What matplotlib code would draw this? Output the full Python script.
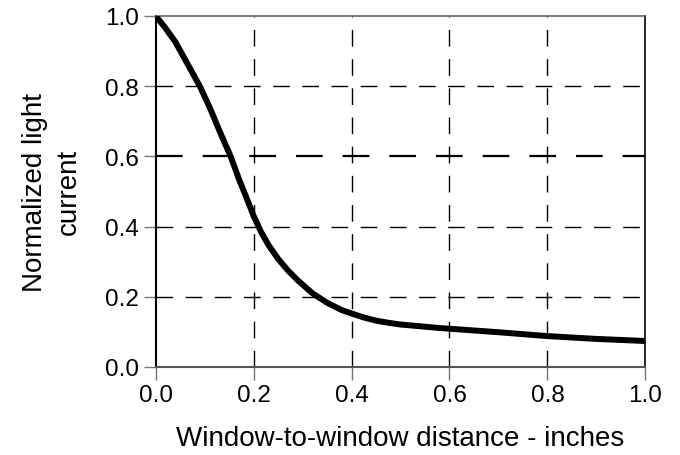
import matplotlib
matplotlib.use('Agg')
import matplotlib.pyplot as plt
import numpy as np

plt.rcParams['font.family'] = ['Liberation Sans', 'DejaVu Sans']

# distance (inches) vs normalized light current
distance = [0.0, 0.02, 0.04, 0.067, 0.09, 0.11, 0.131, 0.153, 0.17, 0.186, 0.20,
            0.215, 0.23, 0.25, 0.27, 0.29, 0.32, 0.35, 0.38, 0.403, 0.425, 0.45,
            0.475, 0.50, 0.58, 0.70, 0.80, 0.90, 1.00]
current = [1.0, 0.965, 0.926, 0.858, 0.80, 0.74, 0.67, 0.60, 0.535, 0.48, 0.43,
           0.385, 0.348, 0.308, 0.275, 0.247, 0.21, 0.183, 0.162, 0.151, 0.141, 0.132,
           0.126, 0.121, 0.111, 0.099, 0.088, 0.080, 0.074]
ticks = [0.0, 0.2, 0.4, 0.6, 0.8, 1.0]

fig = plt.figure(figsize=(6.8, 4.56), dpi=100)
ax = fig.add_axes([0.229, 0.193, 0.72, 0.77])

ax.plot(distance, current, color='black', linewidth=4.3, solid_capstyle='butt',
        solid_joinstyle='round', zorder=3)

ax.set_xlim(0, 1.0)
ax.set_ylim(0, 1.0)
ax.set_xticks(ticks)
ax.set_yticks(ticks)
ax.set_xticklabels(['%.1f' % t for t in ticks])
ax.set_yticklabels(['%.1f' % t for t in ticks])
ax.tick_params(direction='out', length=9, width=1, color='#777777', labelsize=17.5, pad=3)

for t in ticks[1:-1]:
    ax.axvline(t, color='black', linewidth=1, dashes=(12, 9), zorder=1)
    lw = 1.6 if t == 0.6 else 1
    ax.axhline(t, color='black', linewidth=lw, dashes=(12, 9), zorder=1)

ax.spines['left'].set_color('black')
ax.spines['left'].set_linewidth(1.5)
ax.spines['right'].set_color('black')
ax.spines['right'].set_linewidth(1.2)
ax.spines['top'].set_color('#666666')
ax.spines['top'].set_linewidth(1.2)
ax.spines['bottom'].set_color('#555555')
ax.spines['bottom'].set_linewidth(1.5)

ax.set_xlabel('Window-to-window distance - inches', fontsize=20, labelpad=14)
ax.set_ylabel('Normalized light\ncurrent', fontsize=20, labelpad=17, linespacing=1.35)

plt.savefig('out.png', dpi=100)
